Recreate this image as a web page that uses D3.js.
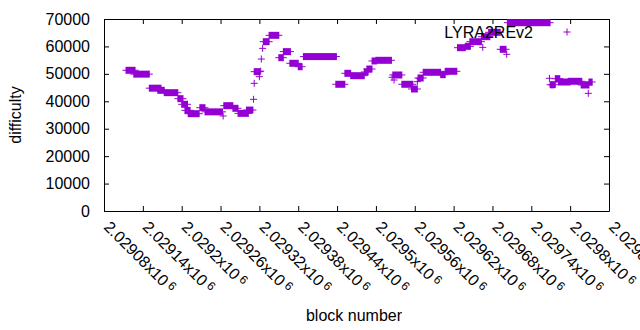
<!DOCTYPE html>
<html>
<head>
<meta charset="utf-8">
<script src="https://cdn.jsdelivr.net/npm/d3@7"></script>
<style>
  body { margin: 0; background: #fff; }
  svg { font-family: "Liberation Sans", Arial, sans-serif; }
</style>
</head>
<body>
<svg id="chart" width="640" height="330"></svg>
<script>
// Runs of blocks with (roughly) the same difficulty: first block, last block, difficulty
const runStart = [2029114, 2029126, 2029150, 2029163, 2029173, 2029194, 2029200, 2029205, 2029210, 2029228,
  2029236, 2029264, 2029265, 2029279, 2029287, 2029300, 2029311, 2029312, 2029312, 2029320,
  2029322, 2029323, 2029325, 2029326, 2029335, 2029350, 2029357, 2029367, 2029380, 2029388,
  2029438, 2029452, 2029461, 2029482, 2029486, 2029494, 2029500, 2029525, 2029528, 2029526,
  2029540, 2029555, 2029564, 2029567, 2029565, 2029573, 2029600, 2029607, 2029626, 2029638,
  2029645, 2029665, 2029663, 2029674, 2029692, 2029702, 2029703, 2029768, 2029772, 2029769,
  2029777, 2029782, 2029797, 2029817, 2029829, 2029828];
const runEnd = [2029128, 2029150, 2029168, 2029173, 2029194, 2029202, 2029209, 2029213, 2029227, 2029236,
  2029263, 2029264, 2029279, 2029287, 2029303, 2029310, 2029311, 2029312, 2029321, 2029320,
  2029322, 2029323, 2029325, 2029335, 2029350, 2029357, 2029368, 2029380, 2029386, 2029439,
  2029452, 2029461, 2029482, 2029488, 2029494, 2029501, 2029524, 2029525, 2029528, 2029540,
  2029557, 2029564, 2029564, 2029567, 2029573, 2029600, 2029607, 2029625, 2029638, 2029646,
  2029663, 2029665, 2029676, 2029692, 2029701, 2029702, 2029769, 2029768, 2029772, 2029777,
  2029784, 2029800, 2029818, 2029829, 2029834, 2029828];
const runDifficulty = [51300, 49900, 44780, 44000, 43140, 40950, 38900, 36700, 35480, 37660,
  36150, 34640, 38400, 37440, 35600, 36800, 40720, 46550, 50800, 48970,
  51000, 55400, 59300, 61730, 64050, 55900, 58100, 53850, 52600, 56300,
  46200, 50200, 49330, 50680, 51770, 54700, 54940, 48740, 47760, 49590,
  46200, 44480, 47150, 48380, 48490, 50570, 49700, 50930, 59540, 60040,
  61730, 59670, 63550, 65150, 58950, 57130, 68650, 48380, 45940, 46050,
  48240, 47030, 47290, 45940, 47030, 42900];

const xTicks = [2029080, 2029140, 2029200, 2029260, 2029320, 2029380, 2029440,
  2029500, 2029560, 2029620, 2029680, 2029740, 2029800, 2029860];
const xTickLabels = ["2.02908", "2.02914", "2.0292", "2.02926", "2.02932", "2.02938", "2.02944",
  "2.0295", "2.02956", "2.02962", "2.02968", "2.02974", "2.0298", "2.02986"];
const yTicks = [0, 10000, 20000, 30000, 40000, 50000, 60000, 70000];
const seriesName = "LYRA2REv2";

const runs = runStart.map((s, i) => ({ start: s, end: runEnd[i], value: runDifficulty[i] }));

const svg = d3.select("#chart");
const COLOR = "#9400d3";
const HALF = 3.5;

// SCALES
const xScale = d3.scaleLinear().domain([2029080, 2029860]).range([104, 609]);
const yScale = d3.scaleLinear().domain([0, 70000]).range([211, 19]);

// Axes (ticks on all four sides, pointing inwards)
const styleAxis = (g) => {
  g.selectAll("path.domain").attr("stroke", "#000");
  g.selectAll(".tick line").attr("stroke", "#000");
};

svg.append("g")
  .attr("transform", "translate(0,211)")
  .call(d3.axisBottom(xScale).tickValues(xTicks).tickSize(-5).tickSizeOuter(0).tickFormat(""))
  .call(styleAxis);
svg.append("g")
  .attr("transform", "translate(0,19)")
  .call(d3.axisTop(xScale).tickValues(xTicks).tickSize(-5).tickSizeOuter(0).tickFormat(""))
  .call(styleAxis);
svg.append("g")
  .attr("transform", "translate(104,0)")
  .call(d3.axisLeft(yScale).tickValues(yTicks).tickSize(-5).tickSizeOuter(0).tickPadding(14).tickFormat(d3.format("d")))
  .call(styleAxis)
  .call((g) => g.selectAll("text").attr("font-size", 16).attr("font-family", "Liberation Sans, Arial, sans-serif").attr("fill", "#000"));
svg.append("g")
  .attr("transform", "translate(609,0)")
  .call(d3.axisRight(yScale).tickValues(yTicks).tickSize(-5).tickSizeOuter(0).tickFormat(""))
  .call(styleAxis);

// Rotated x tick labels with x10^6
const xLabels = svg.append("g")
  .selectAll("text")
  .data(xTicks)
  .join("text")
  .attr("transform", (d) => `translate(${xScale(d) - 1},228) rotate(45)`)
  .attr("font-size", 16)
  .attr("fill", "#000");
xLabels.append("tspan").text((d, i) => xTickLabels[i] + "x10");
xLabels.append("tspan").attr("dx", 3).attr("dy", -4).attr("font-size", 12).text("6");

// Axis titles
svg.append("text")
  .attr("x", 354).attr("y", 321)
  .attr("text-anchor", "middle")
  .attr("font-size", 16)
  .text("block number");
svg.append("text")
  .attr("transform", "translate(21,115) rotate(-90)")
  .attr("text-anchor", "middle")
  .attr("font-size", 16)
  .text("difficulty");

// Data: each run of "+" markers merges into a filled band plus the arms
const marks = svg.append("g");
marks.selectAll("rect")
  .data(runs)
  .join("rect")
  .attr("x", (d) => xScale(d.start) - 0.5)
  .attr("width", (d) => xScale(d.end) - xScale(d.start) + 1)
  .attr("y", (d) => yScale(d.value) - HALF)
  .attr("height", HALF * 2)
  .attr("fill", COLOR);
marks.selectAll("line")
  .data(runs)
  .join("line")
  .attr("x1", (d) => xScale(d.start) - HALF)
  .attr("x2", (d) => xScale(d.end) + HALF)
  .attr("y1", (d) => yScale(d.value))
  .attr("y2", (d) => yScale(d.value))
  .attr("stroke", COLOR)
  .attr("stroke-width", 1);

// Key
svg.append("text")
  .attr("x", 533).attr("y", 38)
  .attr("text-anchor", "end")
  .attr("font-size", 16)
  .text(seriesName);
const key = svg.append("g").attr("transform", "translate(567,32)");
key.append("line").attr("x1", -HALF).attr("x2", HALF).attr("stroke", COLOR);
key.append("line").attr("y1", -HALF).attr("y2", HALF).attr("stroke", COLOR);
</script>
</body>
</html>
